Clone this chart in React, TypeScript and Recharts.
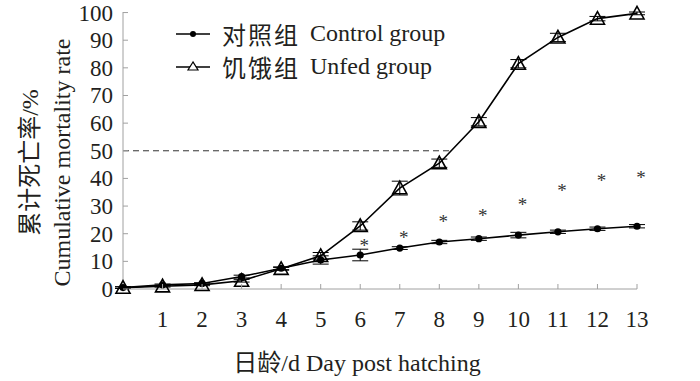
import React from "react"
import {
  ComposedChart,
  Line,
  Scatter,
  XAxis,
  YAxis,
  ErrorBar,
  ReferenceLine,
} from "recharts"

if (typeof document !== "undefined") document.body.style.margin = "0"

const days = [0, 1, 2, 3, 4, 5, 6, 7, 8, 9, 10, 11, 12, 13]
const controlRate = [0.5, 1.5, 2, 4.5, 7.5, 10.5, 12.3, 14.8, 17, 18.2, 19.5, 20.7, 21.8, 22.7]
const controlErr = [0.3, 0.3, 0.3, 0.5, 0.5, 1.5, 2.1, 0.5, 0.6, 0.6, 1, 0.6, 0.6, 0.6]
const unfedRate = [0.5, 1, 1.5, 3, 7.3, 12, 22.8, 36.5, 45.5, 60.5, 81.5, 91, 97.8, 99.7]
const unfedErr = [0.3, 0.3, 0.3, 0.5, 0.5, 1.2, 1.5, 2.5, 1.5, 1.5, 1.5, 1.5, 0.8, 0.5]
const sigMark: (number | null)[] = [null, null, null, null, null, null, 17, 20, 25.6, 28, 32, 37, 40.5, 41.5]
const xTicks = [1, 2, 3, 4, 5, 6, 7, 8, 9, 10, 11, 12, 13]
const yTicks = [0, 10, 20, 30, 40, 50, 60, 70, 80, 90, 100]
const halfLine = 50

const seriesNames = {
  control: "对照组 Control group",
  unfed: "饥饿组 Unfed group",
}

const data = days.map((d, i) => ({
  day: d,
  control: controlRate[i],
  controlErr: controlErr[i],
  unfed: unfedRate[i],
  unfedErr: unfedErr[i],
  sig: sigMark[i],
}))

// day where the unfed group crosses 50%
function crossDay() {
  for (let i = 1; i < days.length; i++) {
    if (unfedRate[i] >= halfLine) {
      const t = (halfLine - unfedRate[i - 1]) / (unfedRate[i] - unfedRate[i - 1])
      return days[i - 1] + t * (days[i] - days[i - 1])
    }
  }
  return days[days.length - 1]
}

const FONT = "'Liberation Serif', 'Times New Roman', 'Noto Sans CJK SC', serif"
const TEXT = "#231f20"
const AXIS = "#a0a0a0"

const CircleDot = (props: any) => {
  const { cx, cy } = props
  if (cx == null || cy == null) return null
  return <circle cx={cx} cy={cy} r={3.6} fill="#000" />
}

const TriDot = (props: any) => {
  const { cx, cy } = props
  if (cx == null || cy == null) return null
  const s = 7
  return (
    <polygon
      points={`${cx},${cy - s} ${cx - s},${cy + s * 0.8} ${cx + s},${cy + s * 0.8}`}
      fill="none"
      stroke="#000"
      strokeWidth={1.6}
    />
  )
}

const Star = (props: any) => {
  const { cx, cy } = props
  if (cx == null || cy == null) return null
  return (
    <text x={cx + 4} y={cy + 10} textAnchor="middle" fontSize={19} fontFamily={FONT} fill="#333" stroke="none">
      *
    </text>
  )
}

const XTick = (props: any) => {
  const { x, y, payload } = props
  return (
    <g>
      <line x1={x} x2={x} y1={y} y2={y - 5} stroke={AXIS} />
      <text x={x} y={y + 38} textAnchor="middle" fontSize={23} fontFamily={FONT} fill={TEXT}>
        {payload.value}
      </text>
    </g>
  )
}

const YTick = (props: any) => {
  const { x, y, payload } = props
  return (
    <g>
      <line x1={x} x2={x + 5} y1={y} y2={y} stroke={AXIS} />
      <text x={x - 10} y={y + 8} textAnchor="end" fontSize={23} fontFamily={FONT} fill={TEXT}>
        {payload.value}
      </text>
    </g>
  )
}

const YLabel = (props: any) => {
  const vb = props.viewBox || {}
  const cy = (vb.y ?? 0) + (vb.height ?? 0) / 2 + 12
  return (
    <g fontFamily={FONT} fontSize={24} fill={TEXT}>
      <text x={30} y={cy} textAnchor="middle" dominantBaseline="central" transform={`rotate(-90 30 ${cy})`}>
        累计死亡率/%
      </text>
      <text x={62} y={cy} textAnchor="middle" dominantBaseline="central" transform={`rotate(-90 62 ${cy})`}>
        Cumulative mortality rate
      </text>
    </g>
  )
}

function LegendBox() {
  const rows = [
    { name: seriesNames.control, kind: "circle" },
    { name: seriesNames.unfed, kind: "tri" },
  ]
  return (
    <div style={{ position: "absolute", left: 175, top: 17, fontFamily: FONT, fontSize: 24, color: TEXT }}>
      {rows.map((r) => {
        const cut = r.name.indexOf(" ")
        return (
          <div key={r.name} style={{ display: "flex", alignItems: "center", height: 33 }}>
            <svg width={36} height={20} style={{ marginRight: 11 }}>
              <line x1={1} x2={35} y1={10} y2={10} stroke="#000" strokeWidth={1.5} />
              {r.kind === "circle" ? (
                <circle cx={18} cy={10} r={3} fill="#000" />
              ) : (
                <polygon points="18,5 13,13 23,13" fill="#fff" stroke="#000" strokeWidth={1.2} />
              )}
            </svg>
            <span style={{ whiteSpace: "pre", letterSpacing: 2, marginRight: 10 }}>{r.name.slice(0, cut)}</span>
            <span style={{ whiteSpace: "pre" }}>{r.name.slice(cut + 1)}</span>
          </div>
        )
      })}
    </div>
  )
}

export default function App() {
  const cross = crossDay()
  return (
    <div style={{ position: "relative", width: 700, height: 381, background: "#fff" }}>
      <ComposedChart width={700} height={381} data={data} margin={{ top: 12, right: 63, left: 0, bottom: 0 }}>
        <XAxis
          dataKey="day"
          type="number"
          domain={[0, 13]}
          ticks={xTicks}
          interval={0}
          height={92}
          stroke={AXIS}
          tickLine={false}
          tickSize={0}
          tickMargin={0}
          tick={<XTick />}
          label={{
            value: "日龄/d Day post hatching",
            position: "insideBottom",
            offset: 10,
            fontSize: 24,
            fontFamily: FONT,
            fill: TEXT,
            dx: -23,
          }}
        />
        <YAxis
          type="number"
          domain={[0, 100]}
          ticks={yTicks}
          interval={0}
          width={123}
          stroke={AXIS}
          tickLine={false}
          tickSize={0}
          tickMargin={0}
          tick={<YTick />}
          label={{ content: <YLabel /> }}
        />
        <ReferenceLine
          segment={[
            { x: 0, y: halfLine },
            { x: cross, y: halfLine },
          ]}
          stroke="#333"
          strokeDasharray="6 4"
          strokeWidth={1}
        />
        <Line
          dataKey="control"
          name={seriesNames.control}
          stroke="#000"
          strokeWidth={1.6}
          dot={<CircleDot />}
          activeDot={false}
          isAnimationActive={false}
        >
          <ErrorBar dataKey="controlErr" width={8} stroke="#000" strokeWidth={1} />
        </Line>
        <Line
          dataKey="unfed"
          name={seriesNames.unfed}
          stroke="#000"
          strokeWidth={1.6}
          dot={<TriDot />}
          activeDot={false}
          isAnimationActive={false}
        >
          <ErrorBar dataKey="unfedErr" width={8} stroke="#000" strokeWidth={1} />
        </Line>
        <Scatter dataKey="sig" fill="#333" shape={<Star />} isAnimationActive={false} />
      </ComposedChart>
      <LegendBox />
    </div>
  )
}
